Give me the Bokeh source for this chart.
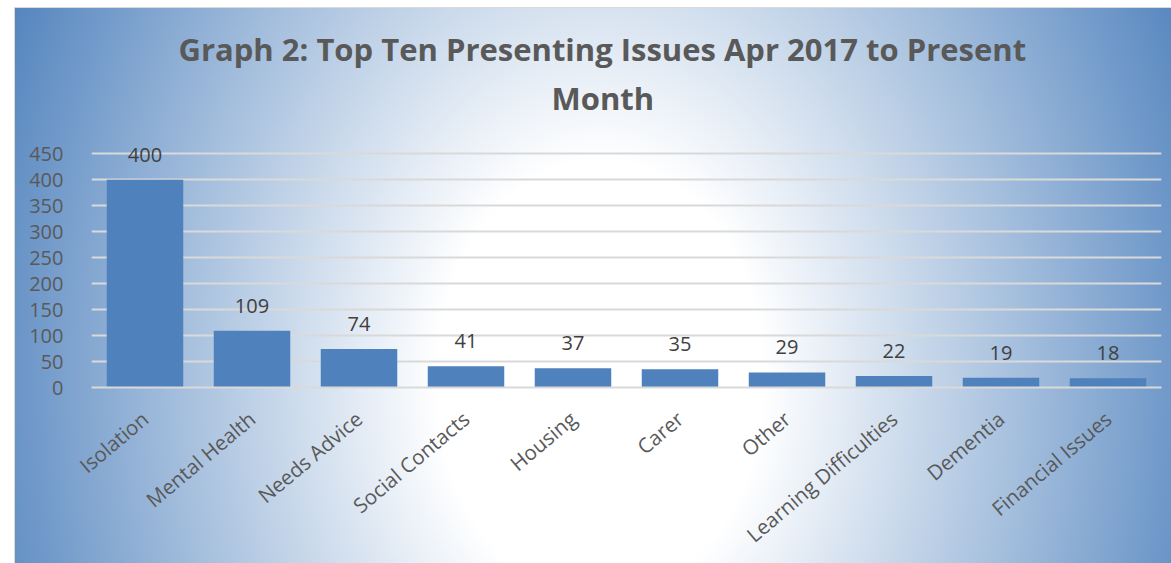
import math
from bokeh.plotting import figure
from bokeh.models import ColumnDataSource, LabelSet, Range1d, FactorRange, FixedTicker, Title
from bokeh.core.properties import value
from bokeh.embed import file_html
from bokeh.resources import INLINE

categories = ["Isolation", "Mental Health", "Needs Advice", "Social Contacts", "Housing",
              "Carer", "Other", "Learning Difficulties", "Dementia", "Financial Issues"]
values = [400, 109, 74, 41, 37, 35, 29, 22, 19, 18]
y_ticks = [0, 50, 100, 150, 200, 250, 300, 350, 400, 450]
title_line1 = "Graph 2: Top Ten Presenting Issues Apr 2017 to Present"
title_line2 = "Month"

src = ColumnDataSource(dict(cat=categories, val=values, lab=[str(v) for v in values]))

p = figure(width=1171, height=563,
           x_range=FactorRange(factors=categories, range_padding=0),
           y_range=Range1d(0, 508),
           output_backend="svg", toolbar_location=None,
           min_border_left=91, min_border_right=10,
           min_border_top=123, min_border_bottom=176)

p.border_fill_color = None
p.background_fill_color = None
p.outline_line_color = None
p.styles = {
    "background": (
        "linear-gradient(#d9d9d9,#d9d9d9) 14px 7px / 1px 556px no-repeat, "
        "linear-gradient(#d9d9d9,#d9d9d9) 14px 7px / 1157px 1px no-repeat, "
        "radial-gradient(678px 912px at 585px 372px, #ffffff 24%, #4a7ebb 100%) 15px 8px / 1156px 555px no-repeat, "
        "#ffffff"
    )
}

p.vbar(x="cat", top="val", width=0.715, source=src, fill_color="#4f81bd", line_color=None)

labels = LabelSet(x="cat", y="val", text="lab", source=src, text_align="center",
                  text_baseline="alphabetic", y_offset=18, text_font=value("Open Sans"),
                  text_font_size=value("20px"), text_color="#404040")
p.add_layout(labels)

# title
p.title.text = title_line1
p.title.align = "left"
p.title.offset = 87
p.title.standoff = 0
p.title.text_font = "Open Sans"
p.title.text_font_size = "31px"
p.title.text_font_style = "bold"
p.title.text_color = "#595959"
t2 = Title(text=title_line2, align="left", offset=460, standoff=10, text_font="Open Sans",
           text_font_size="31px", text_font_style="bold", text_color="#595959")
p.add_layout(t2, "above")

# axes
p.yaxis.ticker = FixedTicker(ticks=y_ticks)
p.yaxis.axis_line_color = None
p.yaxis.major_tick_line_color = None
p.yaxis.minor_tick_line_color = None
p.yaxis.major_label_text_font = "Open Sans"
p.yaxis.major_label_text_font_size = "20px"
p.yaxis.major_label_text_color = "#595959"
p.yaxis.major_label_standoff = 22

p.xaxis.axis_line_color = "#d9d9d9"
p.xaxis.axis_line_width = 2
p.xaxis.major_tick_line_color = None
p.xaxis.minor_tick_line_color = None
p.xaxis.major_label_orientation = 0.70
p.xaxis.major_label_text_font = "Open Sans"
p.xaxis.major_label_text_font_size = "20.5px"
p.xaxis.major_label_text_color = "#595959"
p.xaxis.major_label_standoff = 22

p.xgrid.grid_line_color = None
p.ygrid.grid_line_color = "#d9d9d9"
p.ygrid.grid_line_width = 2

open("out.html", "w").write(file_html(p, INLINE))
